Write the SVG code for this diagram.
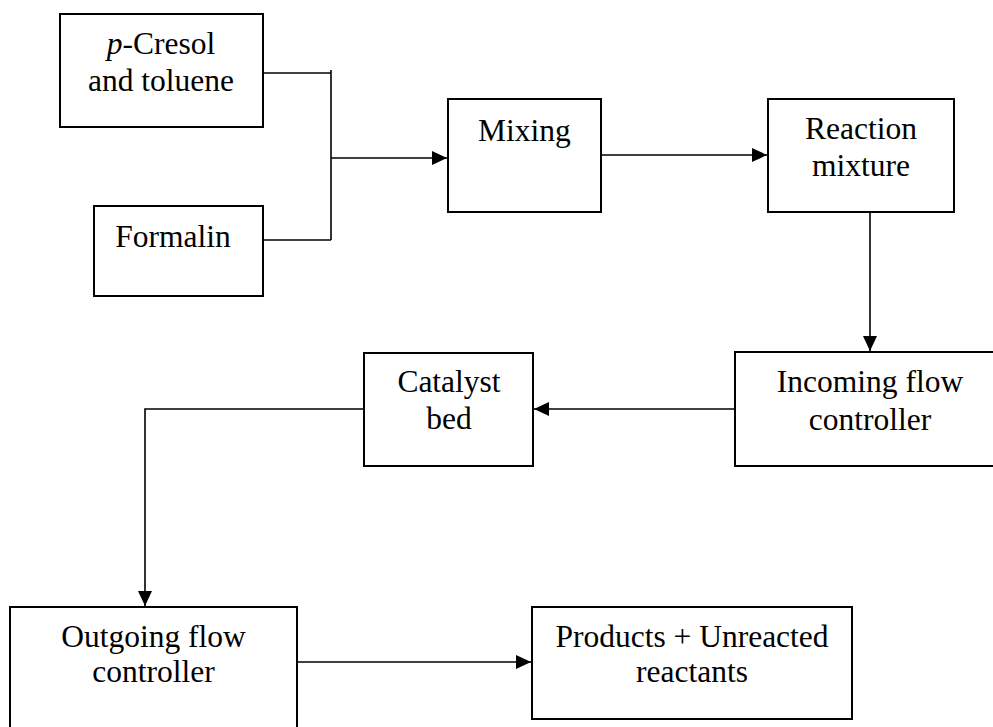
<svg xmlns="http://www.w3.org/2000/svg" width="993" height="727" viewBox="0 0 993 727">
<style>
.box{fill:#fff;stroke:#000;stroke-width:2}
.t{font-family:"Liberation Serif","Times New Roman",serif;font-size:31.5px;fill:#000;text-anchor:middle}
.c{fill:none;stroke:#000;stroke-width:1.6}
</style>
<defs>
<marker id="ah" markerWidth="15" markerHeight="14" refX="15" refY="7" orient="auto" markerUnits="userSpaceOnUse">
<path d="M0,0 L15,7 L0,14 Z" fill="#000"/>
</marker>
</defs>
<rect width="993" height="727" fill="#fff"/>
<g id="connectors">
<polyline class="c" points="263,73 331,73"/>
<polyline class="c" points="263,240 331,240"/>
<line class="c" x1="331" y1="70" x2="331" y2="240"/>
<line class="c" x1="331" y1="158" x2="447" y2="158" marker-end="url(#ah)"/>
<line class="c" x1="601" y1="155" x2="767" y2="155" marker-end="url(#ah)"/>
<line class="c" x1="870" y1="212" x2="870" y2="351" marker-end="url(#ah)"/>
<line class="c" x1="735" y1="409" x2="534" y2="409" marker-end="url(#ah)"/>
<polyline class="c" points="364,409 145,409 145,606" marker-end="url(#ah)"/>
<line class="c" x1="297" y1="662" x2="531" y2="662" marker-end="url(#ah)"/>
</g>
<g id="cresol">
<rect class="box" x="60" y="14" width="203" height="113"/>
<text class="t" x="161" y="54"><tspan font-style="italic">p</tspan>-Cresol</text>
<text class="t" x="161" y="91">and toluene</text>
</g>
<g id="formalin">
<rect class="box" x="94" y="206" width="169" height="90"/>
<text class="t" x="173" y="247">Formalin</text>
</g>
<g id="mixing">
<rect class="box" x="448" y="99" width="153" height="113"/>
<text class="t" x="524.5" y="141">Mixing</text>
</g>
<g id="reaction">
<rect class="box" x="768" y="99" width="186" height="113"/>
<text class="t" x="861" y="139">Reaction</text>
<text class="t" x="861" y="176">mixture</text>
</g>
<g id="incoming">
<rect class="box" x="735" y="352" width="275" height="114"/>
<text class="t" x="870" y="392">Incoming flow</text>
<text class="t" x="870" y="430">controller</text>
</g>
<g id="catalyst">
<rect class="box" x="364" y="353" width="169" height="113"/>
<text class="t" x="449" y="392">Catalyst</text>
<text class="t" x="449" y="429">bed</text>
</g>
<g id="outgoing">
<rect class="box" x="10" y="607" width="287" height="135"/>
<text class="t" x="153.5" y="647">Outgoing flow</text>
<text class="t" x="153.5" y="682">controller</text>
</g>
<g id="products">
<rect class="box" x="532" y="607" width="320" height="112"/>
<text class="t" x="692" y="647">Products + Unreacted</text>
<text class="t" x="692" y="682">reactants</text>
</g>
</svg>
